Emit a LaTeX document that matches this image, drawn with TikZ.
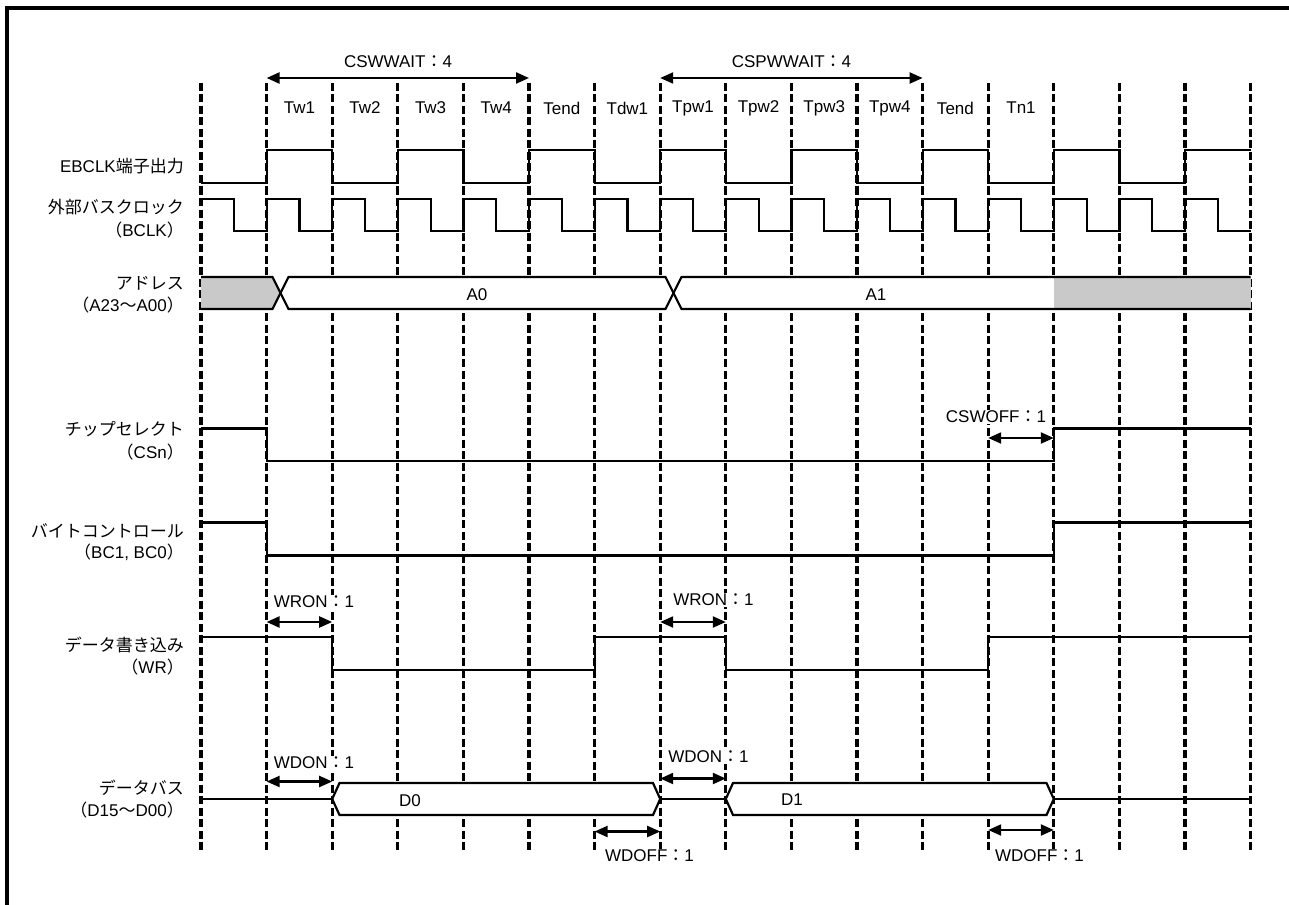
\documentclass[tikz,border=0pt]{standalone}
\usepackage{fontspec}
\setmainfont{Liberation Sans}
\newfontfamily\cjk{Noto Sans CJK JP}
\usetikzlibrary{arrows.meta}
\newcommand{\fwc}{{\cjk ：}}
\begin{document}
\begin{tikzpicture}[x=1pt,y=-1pt,
  font=\fontsize{17}{20}\selectfont,
  sigline/.style={line width=2.2pt, line join=miter},
  gridline/.style={line width=3.2pt, dash pattern=on 8pt off 3.5pt},
  dimarrow/.style={line width=2.2pt, {Triangle[length=13pt,width=11pt]}-{Triangle[length=13pt,width=11pt]}},
  lbl/.style={anchor=east, inner sep=0pt},
  dlbl/.style={fill=white, inner sep=1pt},
  busfill/.style={sigline, fill=white},
]
\useasboundingbox (0,0) rectangle (1289,904);
% frame
\draw[line width=3.2pt] (7,906) -- (7,8) -- (1292,8);

% grid lines
\foreach \k in {0,...,16}{
  \coordinate (g\k) at ({201+65.6*\k},0);
  \draw[gridline] ({201+65.6*\k},83) -- ({201+65.6*\k},852);
}

% cycle names
\foreach \k/\t in {1/Tw1,2/Tw2,3/Tw3,4/Tw4,5/Tend,6/Tdw1,7/Tpw1,8/Tpw2,9/Tpw3,10/Tpw4,11/Tend,12/Tn1}{
  \node (t\k) at ({201+65.6*\k+32.8},108) {\t};
}

% signal names
\node[lbl] (l1)  at (184,166) {EBCLK{\cjk 端子出力}};
\node[lbl] (l2a) at (184,207) {\cjk 外部バスクロック};
\node[lbl] (l2b) at (184,230) {{\cjk （}BCLK{\cjk ）}};
\node[lbl] (l3a) at (184,283) {\cjk アドレス};
\node[lbl] (l3b) at (184,305) {{\cjk （}A23{\cjk ～}A00{\cjk ）}};
\node[lbl] (l4a) at (184,429) {\cjk チップセレクト};
\node[lbl] (l4b) at (184,452) {{\cjk （}CSn{\cjk ）}};
\node[lbl] (l5a) at (184,531) {\cjk バイトコントロール};
\node[lbl] (l5b) at (184,552) {{\cjk （}BC1, BC0{\cjk ）}};
\node[lbl] (l6a) at (184,645) {\cjk データ書き込み};
\node[lbl] (l6b) at (184,667) {{\cjk （}WR{\cjk ）}};
\node[lbl] (l7a) at (184,788) {\cjk データバス};
\node[lbl] (l7b) at (184,810) {{\cjk （}D15{\cjk ～}D00{\cjk ）}};

% EBCLK
\draw[sigline] (201,183)
  \foreach \k in {1,3,...,13}{
    -- ({201+65.6*\k},183) -- ({201+65.6*\k},150) -- ({201+65.6*(\k+1)},150) -- ({201+65.6*(\k+1)},183)
  }
  -- ({201+65.6*15},183) -- ({201+65.6*15},150) -- ({201+65.6*16},150);

% BCLK
\draw[sigline] (201,199)
  \foreach \k in {0,...,14}{
    -- ({201+65.6*\k+32.8},199) -- ({201+65.6*\k+32.8},231) -- ({201+65.6*(\k+1)},231) -- ({201+65.6*(\k+1)},199)
  }
  -- ({201+65.6*15+32.8},199) -- ({201+65.6*15+32.8},231) -- ({201+65.6*16},231);

% Address
\fill[gray!42] (201,277) -- (272.5,277) -- (280.5,293) -- (272.5,309) -- (201,309) -- cycle;
\fill[gray!42] (1053.8,277) rectangle (1250.6,309);
\fill[white] (280.5,293) -- (288.5,277) -- (665.5,277) -- (673.5,293) -- (665.5,309) -- (288.5,309) -- cycle;
\fill[white] (673.5,293) -- (681.5,277) -- (1053.8,277) -- (1053.8,309) -- (681.5,309) -- cycle;
\draw[sigline] (201,277) -- (272.5,277) -- (288.5,309) -- (665.5,309) -- (681.5,277) -- (1250.6,277);
\draw[sigline] (201,309) -- (272.5,309) -- (288.5,277) -- (665.5,277) -- (681.5,309) -- (1250.6,309);
\node (a0) at (477,295) {A0};
\node (a1) at (876,295) {A1};

% CSn
\draw[sigline] (201,428.5) -- (266.6,428.5) -- (266.6,461) -- (1053.8,461) -- (1053.8,428.5) -- (1250.6,428.5);
% BC
\draw[sigline] (201,522.5) -- (266.6,522.5) -- (266.6,555.5) -- (1053.8,555.5) -- (1053.8,522.5) -- (1250.6,522.5);
% WR
\draw[sigline] (201,636.7) -- (332.2,636.7) -- (332.2,670) -- (594.6,670) -- (594.6,636.7) -- (725.8,636.7) -- (725.8,670) -- (988.2,670) -- (988.2,636.7) -- (1250.6,636.7);

% Data bus
\draw[sigline] (201,799) -- (332.2,799);
\draw[busfill] (332.2,799) -- (339.5,783) -- (653,783) -- (660.2,799) -- (653,815) -- (339.5,815) -- cycle;
\draw[sigline] (660.2,799) -- (725.8,799);
\draw[busfill] (725.8,799) -- (733,783) -- (1046.5,783) -- (1053.8,799) -- (1046.5,815) -- (733,815) -- cycle;
\draw[sigline] (1053.8,799) -- (1250.6,799);
\node (d0) at (410,801) {D0};
\node (d1) at (792,800) {D1};

% dimension arrows
\coordinate (cw1) at (266.6,78);  \coordinate (cw2) at (529,78);
\coordinate (cp1) at (660.2,78);  \coordinate (cp2) at (922.6,78);
\coordinate (co1) at (988.2,438); \coordinate (co2) at (1053.8,438);
\coordinate (wr1a) at (266.6,622); \coordinate (wr1b) at (332.2,622);
\coordinate (wr2a) at (660.2,622); \coordinate (wr2b) at (725.8,622);
\coordinate (wd1a) at (266.6,781.5); \coordinate (wd1b) at (332.2,781.5);
\coordinate (wd2a) at (660.2,778.5); \coordinate (wd2b) at (725.8,778.5);
\coordinate (wf1a) at (594.6,831.5); \coordinate (wf1b) at (660.2,831.5);
\coordinate (wf2a) at (988.2,830); \coordinate (wf2b) at (1053.8,830);
\foreach \a/\b in {cw1/cw2,cp1/cp2,co1/co2,wr1a/wr1b,wr2a/wr2b,wd1a/wd1b,wd2a/wd2b,wf1a/wf1b,wf2a/wf2b}{
  \draw[dimarrow] (\a) -- (\b);
}

\node (n-csw) at (398,62) {CSWWAIT\fwc 4};
\node (n-cspw) at (791.5,62) {CSPWWAIT\fwc 4};
\node[dlbl] (n-cswoff) at (996,417) {CSWOFF\fwc 1};
\node[dlbl] (n-wron1) at (314,602) {WRON\fwc 1};
\node[dlbl] (n-wron2) at (713.5,600) {WRON\fwc 1};
\node[dlbl] (n-wdon1) at (314,763) {WDON\fwc 1};
\node[dlbl] (n-wdon2) at (708.5,757) {WDON\fwc 1};
\node[dlbl] (n-wdoff1) at (649.5,856) {WDOFF\fwc 1};
\node[dlbl] (n-wdoff2) at (1039.5,856) {WDOFF\fwc 1};
\end{tikzpicture}
\end{document}
